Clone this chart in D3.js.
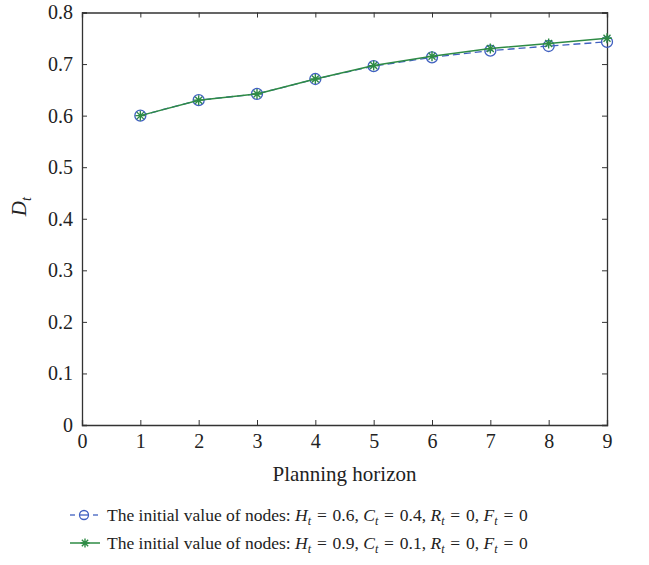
<!DOCTYPE html>
<html lang="en">
<head>
    <meta charset="utf-8">
    <script src="https://d3js.org/d3.v7.min.js"></script>
    <style>
        body { margin: 0; background: white; }
        svg text { font-family: 'Liberation Serif', 'DejaVu Serif', serif; fill: #222; }
        .axis path, .axis line { stroke: #333; }
    </style>
</head>
<body>
<div id="chart"></div>
<script>
    // data
    const horizon = [1, 2, 3, 4, 5, 6, 7, 8, 9];
    const seriesA = [0.600, 0.630, 0.642, 0.671, 0.696, 0.713, 0.726, 0.735, 0.743]; // Ht=0.6, Ct=0.4
    const seriesB = [0.600, 0.630, 0.642, 0.671, 0.697, 0.715, 0.730, 0.740, 0.750]; // Ht=0.9, Ct=0.1
    const xTicks = [0, 1, 2, 3, 4, 5, 6, 7, 8, 9];
    const yTicks = [0, 0.1, 0.2, 0.3, 0.4, 0.5, 0.6, 0.7, 0.8];
    const legendLabels = [
        {H: "0.6", C: "0.4"},
        {H: "0.9", C: "0.1"}
    ];

    const W = 649, H = 565;
    const margin = {top: 12.5, right: 42, bottom: 140, left: 82};
    const width = W - margin.left - margin.right;
    const height = H - margin.top - margin.bottom;

    const blue = "#4060c0", green = "#2e8b45";
    const serif = "'Liberation Serif', 'DejaVu Serif', serif";
    const sp = "\u2004"; // a bit wider than a normal space, like the math spacing round "="

    const svg = d3.select("#chart").append("svg")
        .attr("width", W).attr("height", H);
    const g = svg.append("g")
        .attr("transform", `translate(${margin.left},${margin.top})`);

    const x = d3.scaleLinear().domain([0, 9]).range([0, width]);
    const y = d3.scaleLinear().domain([0, 0.8]).range([height, 0]);

    // axes, ticks pointing inward
    g.append("g").attr("class", "axis")
        .attr("transform", `translate(0,${height})`)
        .call(d3.axisBottom(x).tickValues(xTicks).tickSize(-5).tickPadding(9).tickFormat(d3.format("d")))
        .call(a => a.selectAll("text").attr("font-family", serif).style("font-size", "20px"));
    g.append("g").attr("class", "axis")
        .call(d3.axisLeft(y).tickValues(yTicks).tickSize(-5).tickPadding(9).tickFormat(d => d === 0 ? "0" : d3.format(".1f")(d)))
        .call(a => a.selectAll("text").attr("font-family", serif).style("font-size", "20px"));
    g.append("g").attr("class", "axis")
        .call(d3.axisTop(x).tickValues(xTicks).tickSize(-5).tickFormat(""));
    g.append("g").attr("class", "axis")
        .attr("transform", `translate(${width},0)`)
        .call(d3.axisRight(y).tickValues(yTicks).tickSize(-5).tickFormat(""));
    g.selectAll(".axis path").attr("stroke-width", 1.3);

    // axis labels
    g.append("text")
        .attr("x", width / 2)
        .attr("y", height + 56)
        .attr("text-anchor", "middle")
        .style("font-size", "21px")
        .text("Planning horizon");

    const yl = g.append("text")
        .attr("transform", `translate(-56,${y(0.4) - 12}) rotate(-90)`)
        .attr("text-anchor", "middle")
        .style("font-size", "21px");
    yl.append("tspan").style("font-style", "italic").text("D");
    yl.append("tspan").style("font-style", "italic").style("font-size", "14px").attr("dy", 5).text("t");

    const line = d3.line().x((d, i) => x(horizon[i])).y(d => y(d));

    // series A: dashed blue with circles
    g.append("path").datum(seriesA)
        .attr("d", line).attr("fill", "none")
        .attr("stroke", blue).attr("stroke-width", 1.3)
        .attr("stroke-dasharray", "7,4");
    g.selectAll(".ptA").data(seriesA).enter().append("circle")
        .attr("class", "ptA")
        .attr("cx", (d, i) => x(horizon[i])).attr("cy", d => y(d))
        .attr("r", 5.5).attr("fill", "none")
        .attr("stroke", blue).attr("stroke-width", 1.3);

    // series B: solid green with stars
    g.append("path").datum(seriesB)
        .attr("d", line).attr("fill", "none")
        .attr("stroke", green).attr("stroke-width", 1.5);

    function star(sel, r) {
        sel.append("path")
            .attr("d", `M${-r},0H${r}M0,${-r}V${r}M${-r*0.7},${-r*0.7}L${r*0.7},${r*0.7}M${-r*0.7},${r*0.7}L${r*0.7},${-r*0.7}`)
            .attr("stroke", green).attr("stroke-width", 1.4).attr("fill", "none");
    }
    g.selectAll(".ptB").data(seriesB).enter().append("g")
        .attr("class", "ptB")
        .attr("transform", (d, i) => `translate(${x(horizon[i])},${y(d)})`)
        .call(star, 5);

    // legend
    const legend = svg.append("g").attr("transform", "translate(70,515)");
    legendLabels.forEach((lab, i) => {
        const row = legend.append("g").attr("transform", `translate(0,${i * 28})`);
        if (i === 0) {
            row.append("line").attr("x1", 0).attr("x2", 5).attr("stroke", blue).attr("stroke-width", 1.3);
            row.append("line").attr("x1", 23).attr("x2", 28).attr("stroke", blue).attr("stroke-width", 1.3);
            row.append("circle").attr("cx", 14).attr("r", 4.5).attr("fill", "none").attr("stroke", blue).attr("stroke-width", 1.3);
            row.append("line").attr("x1", 9.5).attr("x2", 18.5).attr("stroke", blue).attr("stroke-width", 1.3);
        } else {
            row.append("line").attr("x1", 0).attr("x2", 30).attr("stroke", green).attr("stroke-width", 1.5);
            row.append("g").attr("transform", "translate(15,0)").call(star, 4.5);
        }
        const t = row.append("text").attr("x", 37).attr("y", 6).style("font-size", "17.5px");
        t.append("tspan").text("The initial value of nodes: ");
        const parts = [["H", lab.H, ", "], ["C", lab.C, ", "], ["R", "0", ", "], ["F", "0", ""]];
        parts.forEach(p => {
            t.append("tspan").style("font-style", "italic").text(p[0]);
            t.append("tspan").style("font-style", "italic").style("font-size", "12px").attr("dy", 4).text("t");
            t.append("tspan").attr("dy", -4).text(`${sp}=${sp}${p[1]}${p[2]}`);
        });
    });
</script>
</body>
</html>
